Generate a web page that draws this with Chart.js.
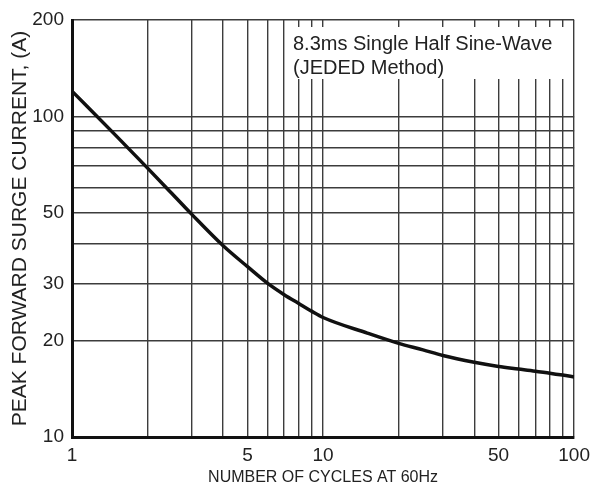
<!DOCTYPE html>
<html>
<head>
<meta charset="utf-8">
<script src="https://cdn.jsdelivr.net/npm/chart.js@4"></script>
<style>
  html, body { margin: 0; padding: 0; background: #fff; }
  #wrap { width: 597px; height: 484px; }
</style>
</head>
<body>
<div id="wrap"><canvas id="surge" width="597" height="484"></canvas></div>
<script>
// surge curve
const cycles = [1, 1.5, 2, 2.5, 3, 4, 5, 6, 7, 8, 9, 10, 15, 20, 25, 30, 40, 50, 60, 70, 80, 90, 100];
const peakCurrent = [120, 87, 69, 57.5, 49.5, 39.5, 34, 30.2, 27.8, 26.1, 24.7, 23.6, 21.1, 19.6, 18.7, 17.95, 17.1, 16.6, 16.3, 16.05, 15.8, 15.6, 15.4];

const xGrid = [1, 2, 3, 4, 5, 6, 7, 8, 9, 10, 20, 30, 40, 50, 60, 70, 80, 90, 100];
const xLabels = [1, 5, 10, 50, 100];
const yGrid = [10, 20, 30, 40, 50, 60, 70, 80, 90, 100, 200];
const yLabels = [10, 20, 30, 50, 100, 200];

const noteLines = ['8.3ms Single Half Sine-Wave', '(JEDED Method)'];

const tickFont = { family: "'Liberation Sans', Arial", size: 19 };
const gridCol = '#3c3c3c';

// white box with the test condition, top right of the plot
const notePlugin = {
  id: 'note',
  afterDraw(chart) {
    const { ctx, chartArea } = chart;
    const x = chartArea.left + 218, y = chartArea.top + 7;
    ctx.save();
    ctx.fillStyle = '#fff';
    ctx.fillRect(x, y, chartArea.right - x - 2, 52);
    ctx.fillStyle = '#222';
    ctx.font = "20px 'Liberation Sans', Arial";
    ctx.textBaseline = 'alphabetic';
    noteLines.forEach((t, i) => ctx.fillText(t, x + 3, y + 23 + i * 24));
    ctx.restore();
  },
};

new Chart(document.getElementById('surge'), {
  type: 'line',
  data: {
    labels: cycles,
    datasets: [{
      data: cycles.map((c, i) => ({ x: c, y: peakCurrent[i] })),
      borderColor: '#111', borderWidth: 3.5, pointRadius: 0,
      cubicInterpolationMode: 'monotone', fill: false,
    }],
  },
  options: {
    responsive: false, animation: false,
    layout: { padding: { top: 20, right: 22, left: 0, bottom: 0 } },
    plugins: { legend: { display: false }, tooltip: { enabled: false } },
    scales: {
      x: {
        type: 'logarithmic', min: 1, max: 100,
        afterBuildTicks: s => { s.ticks = xGrid.map(v => ({ value: v })); },
        afterFit: s => { s.height = 47; },
        grid: { color: gridCol, lineWidth: 1.4, drawTicks: false },
        border: { color: '#111', width: 3 },
        ticks: {
          autoSkip: false, maxRotation: 0, padding: 7, color: '#222', font: tickFont,
          callback: v => xLabels.includes(v) ? String(v) : '',
        },
        title: {
          display: true, text: 'NUMBER OF CYCLES AT 60Hz', color: '#222',
          font: { family: "'Liberation Sans', Arial", size: 16 },
          padding: { top: 0, bottom: -3 },
        },
      },
      y: {
        type: 'logarithmic', min: 10, max: 200,
        afterBuildTicks: s => { s.ticks = yGrid.map(v => ({ value: v })); },
        afterFit: s => { s.width = 72; },
        grid: { color: gridCol, lineWidth: 1.4, drawTicks: false },
        border: { color: '#111', width: 3 },
        ticks: {
          autoSkip: false, padding: 8, color: '#222', font: tickFont,
          callback: v => yLabels.includes(v) ? String(v) : '',
        },
        title: {
          display: true, text: 'PEAK FORWARD SURGE CURRENT, (A)', color: '#222',
          font: { family: "'Liberation Sans', Arial", size: 21 },
          padding: { top: 8, bottom: 0 },
        },
      },
    },
  },
  plugins: [notePlugin],
});
</script>
</body>
</html>
